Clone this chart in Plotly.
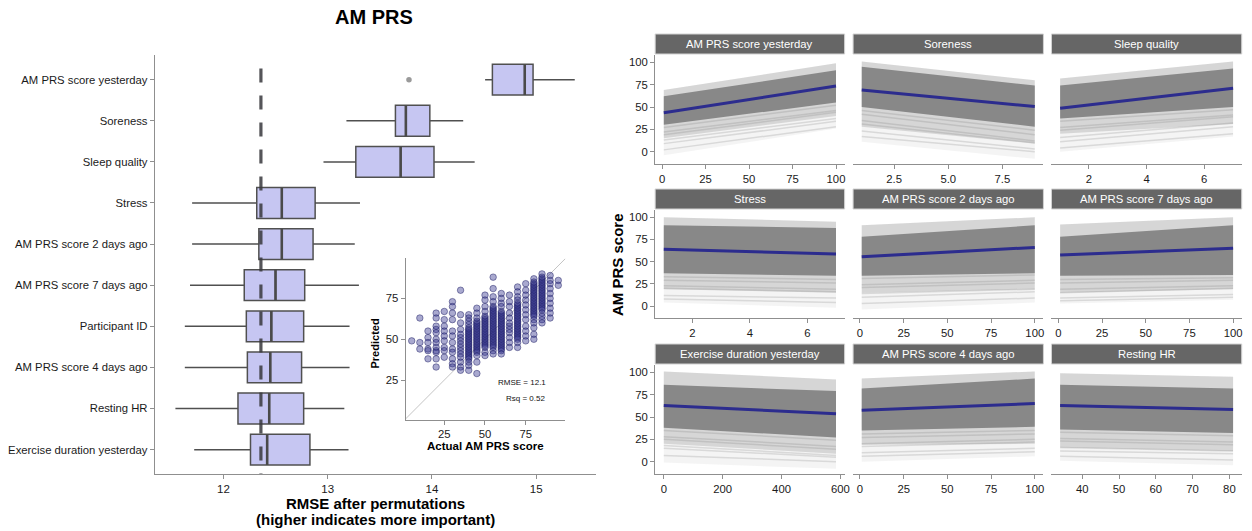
import plotly.graph_objects as go

W, H = 1252, 531

# ---------------- Permutation importance (box plot) ----------------
FEATURES = ["AM PRS score yesterday", "Soreness", "Sleep quality", "Stress",
            "AM PRS score 2 days ago", "AM PRS score 7 days ago", "Participant ID",
            "AM PRS score 4 days ago", "Resting HR", "Exercise duration yesterday"]
BOX_LOWER = [14.51, 13.18, 12.96, 11.70, 11.70, 11.68, 11.63, 11.63, 11.54, 11.72]
BOX_Q1 = [14.58, 13.65, 13.27, 12.32, 12.34, 12.20, 12.22, 12.23, 12.14, 12.26]
BOX_MEDIAN = [14.89, 13.75, 13.70, 12.56, 12.56, 12.50, 12.46, 12.45, 12.44, 12.42]
BOX_Q3 = [14.97, 13.98, 14.02, 12.88, 12.86, 12.78, 12.77, 12.75, 12.77, 12.83]
BOX_UPPER = [15.37, 14.30, 14.41, 13.31, 13.26, 13.30, 13.21, 13.21, 13.16, 13.20]
OUTLIER_FEATURE = ["AM PRS score yesterday"]
OUTLIER_VALUE = [13.78]
BASELINE_RMSE = 12.36
RMSE_TICKS = [12, 13, 14, 15]

# ---------------- Inset: predicted vs actual ----------------
ACTUAL_LEVELS = [5, 10, 15, 20, 25, 30, 35, 40, 45, 50, 55, 60, 65, 70, 75, 80, 85, 90, 95]
PREDICTED_BY_LEVEL = [
    [49],
    [63, 48, 44],
    [55, 51, 48, 44, 43, 38],
    [66, 63, 58, 56, 54, 50, 48, 45, 43, 42, 38, 33],
    [67, 62, 58, 55, 52, 49, 45, 43, 39],
    [73, 70, 66, 62, 55, 52, 48, 44, 42, 38, 35, 33],
    [80, 65, 60, 56, 53, 51, 49, 47, 45, 43, 41, 39, 36, 33, 31],
    [65, 63, 61, 59, 57, 56, 55, 54, 53, 52, 51, 50, 49, 48, 47, 46, 45, 44, 43, 42, 41, 40, 39, 38, 36, 34, 31],
    [69, 66, 63, 61, 60, 59, 58, 57, 56, 55, 54, 53, 52, 51, 50, 49, 48, 47, 46, 45, 44, 43, 42, 40, 36, 29],
    [77, 74, 70, 67, 64, 63, 62, 61, 60, 59, 58, 57, 56, 55, 54, 53, 52, 51, 50, 49, 48, 47, 46, 45, 42, 40],
    [88, 81, 76, 73, 70, 69, 68, 67, 66, 65, 64, 63, 62, 61, 60, 59, 58, 57, 56, 55, 54, 53, 52, 51, 50, 49,
     48, 47, 46, 45, 43, 41],
    [78, 75, 72, 70, 67, 66, 65, 64, 63, 62, 61, 60, 59, 58, 57, 56, 55, 54, 53, 52, 51, 50, 49, 48, 47, 46,
     45, 44, 43, 41],
    [77, 73, 70, 66, 63, 60, 58, 56, 54, 51, 48, 45],
    [82, 79, 76, 74, 72, 71, 70, 69, 68, 67, 66, 65, 64, 63, 62, 61, 60, 59, 58, 57, 56, 55, 54, 53, 52, 51,
     50, 48, 45],
    [84, 80, 77, 74, 71, 68, 65, 62, 58, 55, 52, 49],
    [87, 85, 84, 83, 82, 81, 80, 79, 78, 77, 76, 75, 74, 73, 72, 71, 70, 69, 68, 67, 66, 65, 64, 62, 60, 57,
     53, 50],
    [90, 88, 87, 86, 85, 84, 83, 82, 81, 80, 79, 78, 77, 76, 75, 74, 73, 72, 71, 70, 69, 68, 66, 64, 62, 60],
    [89, 86, 84, 81, 78, 75, 72, 69, 66, 63],
    [86, 83],
]
INSET_TICKS = [25, 50, 75]
INSET_RMSE = 12.1
INSET_RSQ = 0.52

# ---------------- Partial dependence facets ----------------
FACET_NAMES = ["AM PRS score yesterday", "Soreness", "Sleep quality",
               "Stress", "AM PRS score 2 days ago", "AM PRS score 7 days ago",
               "Exercise duration yesterday", "AM PRS score 4 days ago", "Resting HR"]
FACET_X_MIN = [1, 1, 1, 1, 1, 1, 0, 1, 34]
FACET_X_MAX = [100, 9, 7, 7, 100, 100, 585, 100, 81]
FACET_TICKS = [[0, 25, 50, 75, 100], [2.5, 5.0, 7.5], [2, 4, 6],
               [2, 4, 6], [0, 25, 50, 75, 100], [0, 25, 50, 75, 100],
               [0, 200, 400, 600], [0, 25, 50, 75, 100], [40, 50, 60, 70, 80]]
FACET_TICKTEXT = [["0", "25", "50", "75", "100"], ["2.5", "5.0", "7.5"], ["2", "4", "6"],
                  ["2", "4", "6"], ["0", "25", "50", "75", "100"], ["0", "25", "50", "75", "100"],
                  ["0", "200", "400", "600"], ["0", "25", "50", "75", "100"], ["40", "50", "60", "70", "80"]]
# ICE-curve envelope (value at x min / x max): top, top of dense core, bottom of core, tail, bottom
BAND_TOP_START = [69, 101, 82, 100, 91, 92, 101, 93, 99]
BAND_TOP_END = [99, 80, 101, 95, 100, 100, 92, 101, 95]
CORE_TOP_START = [62, 95, 74, 91, 78, 78, 86, 82, 86]
CORE_TOP_END = [91, 74, 93, 88, 91, 91, 79, 93, 82]
CORE_BOT_START = [30, 50, 37, 37, 34, 34, 38, 35, 36]
CORE_BOT_END = [55, 28, 50, 34, 37, 35, 27, 39, 32]
TAIL_START = [15, 28, 20, 19, 15, 15, 20, 19, 16]
TAIL_END = [40, 9, 31, 15, 19, 19, 9, 20, 12]
BAND_BOT_START = [-4, 11, 0, 4, -4, 3, -1, 0, 1]
BAND_BOT_END = [26, -8, 17, -2, 4, 7, -8, 6, -4]
# individual faint ICE curves visible in the lower tail (start value, end value)
TAIL_LINE_START = [[27, 22, 19, 13, 9, 2], [46, 42, 35, 31, 23, 17], [34, 27, 24, 16, 11, 4],
                   [33, 29, 23, 20, 12, 8], [31, 24, 21, 14, 10, 3], [30, 26, 19, 15, 9, 6],
                   [35, 28, 25, 18, 15, 7], [31, 27, 20, 17, 10, 6], [33, 26, 23, 16, 12, 6]]
TAIL_LINE_END = [[52, 46, 44, 37, 34, 28], [24, 19, 12, 10, 3, 0], [47, 41, 39, 32, 28, 20],
                 [30, 26, 19, 16, 9, 4], [35, 29, 26, 19, 16, 9], [32, 29, 23, 20, 13, 10],
                 [24, 17, 14, 7, 5, 0], [35, 31, 25, 22, 15, 11], [29, 22, 19, 12, 9, 2]]
MEAN_START = [43.5, 69, 48.5, 64, 55.5, 57.5, 63, 57.5, 63]
MEAN_END = [73.5, 50.5, 71, 58.5, 66, 65, 53.5, 65, 58.5]
Y_TICKS = [0, 25, 50, 75, 100]
Y_RANGE = [-13.8, 108.2]

FONT = "Liberation Sans, Arial, Helvetica, sans-serif"
AXIS_GREY = "#8f8f8f"
TEXT = "#1a1a1a"


def fx(p):
    return p / W


def fy(p):
    return 1 - p / H


fig = go.Figure()

# ---- boxes ----
n = len(FEATURES)
pos = [n - 1 - i for i in range(n)]
fig.add_trace(go.Box(
    y=pos, q1=BOX_Q1, median=BOX_MEDIAN, q3=BOX_Q3,
    lowerfence=BOX_LOWER, upperfence=BOX_UPPER,
    orientation="h", width=0.75, whiskerwidth=0, boxpoints=False,
    fillcolor="#C6C6F2", line=dict(color="#505050", width=1.5),
    xaxis="x", yaxis="y", hoverinfo="skip"))
# thicker medians
mx, my = [], []
for p, m in zip(pos, BOX_MEDIAN):
    mx += [m, m, None]
    my += [p - 0.375, p + 0.375, None]
fig.add_trace(go.Scatter(x=mx, y=my, mode="lines", line=dict(color="#4a4a4a", width=2.6),
                         xaxis="x", yaxis="y", hoverinfo="skip"))
fig.add_trace(go.Scatter(
    x=OUTLIER_VALUE, y=[pos[FEATURES.index(f)] for f in OUTLIER_FEATURE], mode="markers",
    marker=dict(color="#9a9a9a", size=5.5), xaxis="x", yaxis="y", hoverinfo="skip"))
fig.add_trace(go.Scatter(
    x=[BASELINE_RMSE, BASELINE_RMSE], y=[9.27, -0.6], mode="lines",
    line=dict(color="rgba(55,55,60,0.85)", width=3.2, dash="14px,13px"),
    xaxis="x", yaxis="y", hoverinfo="skip"))

# ---- inset scatter ----
ax, ay = [], []
for a, preds in zip(ACTUAL_LEVELS, PREDICTED_BY_LEVEL):
    ax += [a] * len(preds)
    ay += preds
fig.add_trace(go.Scatter(x=[0, 100], y=[0, 100], mode="lines",
                         line=dict(color="#c4c4c4", width=1), xaxis="x2", yaxis="y2", hoverinfo="skip"))
fig.add_trace(go.Scatter(
    x=ax, y=ay, mode="markers",
    marker=dict(size=6.5, color="rgba(50,50,140,0.42)", line=dict(color="rgba(30,30,100,0.6)", width=0.8)),
    xaxis="x2", yaxis="y2", hoverinfo="skip"))

# ---- facets ----
COLS = [(657.8, 848.0), (856.5, 1047.6), (1055.7, 1246.7)]
ROWS = [(55, 164), (210, 318.3), (365, 474)]
STRIPS = [(34, 54), (189, 209), (344, 364)]
layout_axes = {}
shapes = []
annotations = []
band_grey = "110,110,110"
for k in range(9):
    r, c = divmod(k, 3)
    idx = k + 3
    xa, ya = f"x{idx}", f"y{idx}"
    x0, x1 = FACET_X_MIN[k], FACET_X_MAX[k]
    layers = [
        (BAND_TOP_START[k], BAND_TOP_END[k], BAND_BOT_START[k], BAND_BOT_END[k], 0.08),
        (BAND_TOP_START[k], BAND_TOP_END[k], TAIL_START[k], TAIL_END[k], 0.22),
        (CORE_TOP_START[k], CORE_TOP_END[k], CORE_BOT_START[k], CORE_BOT_END[k], 0.75),
    ]
    for ts, te, bs, be, alpha in layers:
        fig.add_trace(go.Scatter(
            x=[x0, x1, x1, x0, x0], y=[ts, te, be, bs, ts], mode="lines", fill="toself",
            fillcolor=f"rgba({band_grey},{alpha})", line=dict(width=0),
            xaxis=xa, yaxis=ya, hoverinfo="skip"))
    tx, ty = [], []
    for s, e in zip(TAIL_LINE_START[k], TAIL_LINE_END[k]):
        tx += [x0, x1, None]
        ty += [s, e, None]
    fig.add_trace(go.Scatter(x=tx, y=ty, mode="lines",
                             line=dict(color=f"rgba({band_grey},0.2)", width=1.5),
                             xaxis=xa, yaxis=ya, hoverinfo="skip"))
    fig.add_trace(go.Scatter(
        x=[x0, x1], y=[MEAN_START[k], MEAN_END[k]], mode="lines",
        line=dict(color="#2c2c8e", width=3), xaxis=xa, yaxis=ya, hoverinfo="skip"))

    span = x1 - x0
    layout_axes[f"xaxis{idx}"] = dict(
        domain=[fx(COLS[c][0]), fx(COLS[c][1])], range=[x0 - 0.05 * span, x1 + 0.05 * span],
        anchor=ya, showline=True, linecolor=AXIS_GREY, linewidth=1, ticks="outside", ticklen=4,
        tickcolor=AXIS_GREY, tickvals=FACET_TICKS[k], ticktext=FACET_TICKTEXT[k],
        showgrid=False, zeroline=False, tickfont=dict(size=11.3, color=TEXT))
    ydict = dict(domain=[fy(ROWS[r][1]), fy(ROWS[r][0])], range=Y_RANGE, anchor=xa,
                 showgrid=False, zeroline=False)
    if c == 0:
        ydict.update(showline=True, linecolor=AXIS_GREY, linewidth=1, ticks="outside", ticklen=4,
                     tickcolor=AXIS_GREY, tickvals=Y_TICKS, tickfont=dict(size=11.3, color=TEXT))
    else:
        ydict.update(showticklabels=False, showline=False, ticks="")
    layout_axes[f"yaxis{idx}"] = ydict

    shapes.append(dict(type="rect", xref="paper", yref="paper",
                       x0=fx(COLS[c][0]), x1=fx(COLS[c][1]), y0=fy(STRIPS[r][1]), y1=fy(STRIPS[r][0]),
                       fillcolor="#666666", line=dict(color="#d2d2d2", width=1), layer="above"))
    annotations.append(dict(text=FACET_NAMES[k], xref="paper", yref="paper",
                            x=fx((COLS[c][0] + COLS[c][1]) / 2), y=fy((STRIPS[r][0] + STRIPS[r][1]) / 2),
                            showarrow=False, font=dict(color="white", size=11.3, family=FONT),
                            xanchor="center", yanchor="middle"))

# ---- text annotations ----
annotations += [
    dict(text="<b>AM PRS</b>", xref="paper", yref="paper", x=fx(376), y=fy(17), showarrow=False,
         font=dict(size=20, color="#000"), xanchor="center", yanchor="middle"),
    dict(text="<b>RMSE after permutations</b>", xref="paper", yref="paper", x=fx(377), y=fy(503),
         showarrow=False, font=dict(size=15, color="#000"), xanchor="center", yanchor="middle"),
    dict(text="<b>(higher indicates more important)</b>", xref="paper", yref="paper", x=fx(377),
         y=fy(519.5), showarrow=False, font=dict(size=15, color="#000"),
         xanchor="center", yanchor="middle"),
    dict(text="<b>AM PRS score</b>", xref="paper", yref="paper", x=fx(620), y=fy(264.5),
         showarrow=False, textangle=-90, font=dict(size=15, color="#000"),
         xanchor="center", yanchor="middle"),
    dict(text="<b>Predicted</b>", xref="paper", yref="paper", x=fx(377), y=fy(343),
         showarrow=False, textangle=-90, font=dict(size=11, color="#000"),
         xanchor="center", yanchor="middle"),
    dict(text="<b>Actual AM PRS score</b>", xref="paper", yref="paper", x=fx(487), y=fy(445.7),
         showarrow=False, font=dict(size=11.5, color="#000"), xanchor="center", yanchor="middle"),
    dict(text=f"RMSE = {INSET_RMSE}", xref="x2", yref="y2", x=73, y=23.3, showarrow=False,
         font=dict(size=8, color="#111"), xanchor="center", yanchor="middle"),
    dict(text=f"Rsq = {INSET_RSQ}", xref="x2", yref="y2", x=74.6, y=13.8, showarrow=False,
         font=dict(size=8, color="#111"), xanchor="center", yanchor="middle"),
]

fig.update_layout(
    width=W, height=H, margin=dict(l=0, r=0, t=0, b=0),
    paper_bgcolor="white", plot_bgcolor="white", showlegend=False,
    font=dict(family=FONT, size=11.3, color=TEXT),
    xaxis=dict(domain=[fx(155.4), fx(597.9)], range=[11.342, 15.569], anchor="y",
               showline=True, linecolor=AXIS_GREY, linewidth=1, ticks="outside", ticklen=4,
               tickcolor=AXIS_GREY, tickvals=RMSE_TICKS, showgrid=False, zeroline=False,
               tickfont=dict(size=11.5, color=TEXT)),
    yaxis=dict(domain=[fy(474.3), fy(55)], range=[-0.6, 9.6], anchor="x",
               showline=True, linecolor=AXIS_GREY, linewidth=1, ticks="outside", ticklen=4,
               tickcolor=AXIS_GREY, tickvals=pos, ticktext=FEATURES, showgrid=False, zeroline=False,
               tickfont=dict(size=11.3, color=TEXT)),
    xaxis2=dict(domain=[fx(407.3), fx(567.4)], range=[1.3, 99.2], anchor="y2",
                showline=True, linecolor=AXIS_GREY, linewidth=1, ticks="outside", ticklen=4,
                tickcolor=AXIS_GREY, tickvals=INSET_TICKS, showgrid=False, zeroline=False,
                tickfont=dict(size=11.3, color=TEXT)),
    yaxis2=dict(domain=[fy(419.8), fy(257.7)], range=[0.7, 99.9], anchor="x2",
                showline=True, linecolor=AXIS_GREY, linewidth=1, ticks="outside", ticklen=4,
                tickcolor=AXIS_GREY, tickvals=INSET_TICKS, showgrid=False, zeroline=False,
                tickfont=dict(size=11.3, color=TEXT)),
    shapes=shapes, annotations=annotations,
    **layout_axes,
)

fig.write_html("out.html")
